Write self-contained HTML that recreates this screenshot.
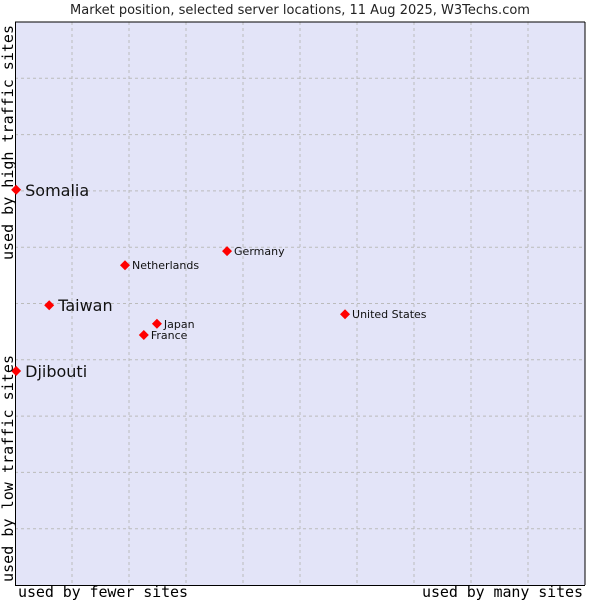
<!DOCTYPE html>
<html><head><meta charset="utf-8"><style>
body{margin:0;background:#fff;}
svg{display:block;font-family:"DejaVu Sans","Liberation Sans",sans-serif;}
</style></head><body>
<svg id="c" width="600" height="600">
<text x="300" y="14" text-anchor="middle" font-size="13" fill="#222">Market position, selected server locations, 11 Aug 2025, W3Techs.com</text>
<rect x="15" y="22" width="570" height="563" fill="#e3e4f8"/>
<g id="grid"></g>
<line x1="15" y1="22" x2="585" y2="22" stroke="#000"/>
<line x1="15.5" y1="22" x2="15.5" y2="585" stroke="#000"/>
<line x1="15" y1="585.5" x2="585" y2="585.5" stroke="#000"/>
<line x1="585" y1="22" x2="585" y2="585" stroke="#000"/>
<g id="pts"></g>
<text x="18" y="597" textLength="170" font-family="DejaVu Sans Mono,Liberation Mono,monospace" font-size="15">used by fewer sites</text>
<text x="422" y="597" textLength="161" font-family="DejaVu Sans Mono,Liberation Mono,monospace" font-size="15">used by many sites</text>
<text transform="translate(13,582) rotate(-90)" textLength="227" font-family="DejaVu Sans Mono,Liberation Mono,monospace" font-size="15">used by low traffic sites</text>
<text transform="translate(13,260) rotate(-90)" textLength="235" font-family="DejaVu Sans Mono,Liberation Mono,monospace" font-size="15">used by high traffic sites</text>
</svg>
<script>
const names=["Somalia","Taiwan","Djibouti","Netherlands","Germany","Japan","France","United States"];
const xVals=[0.2,6,0.2,19.3,37.2,24.9,22.6,57.9];
const yVals=[70.2,49.7,38.0,56.8,59.3,46.4,44.4,48.1];
const big=[true,true,true,false,false,false,false,false];
const ns="http://www.w3.org/2000/svg";
const X=v=>15+v*5.7, Y=v=>585-v*5.63;
const g=document.getElementById('grid');
for(let i=1;i<10;i++){
 const l=document.createElementNS(ns,'line');
 l.setAttribute('x1',X(i*10));l.setAttribute('x2',X(i*10));l.setAttribute('y1',22);l.setAttribute('y2',585);
 l.setAttribute('stroke','#bbb');l.setAttribute('stroke-dasharray','3,3');
 
 
 g.appendChild(l);
 const h=document.createElementNS(ns,'line');
 h.setAttribute('y1',Y(i*10));h.setAttribute('y2',Y(i*10));h.setAttribute('x1',15);h.setAttribute('x2',585);
 h.setAttribute('stroke','#bbb');h.setAttribute('stroke-dasharray','3,3');
 
 
 g.appendChild(h);
}
const p=document.getElementById('pts');
names.forEach((n,i)=>{
 const x=X(xVals[i]),y=Y(yVals[i]);
 const d=document.createElementNS(ns,'path');
 d.setAttribute('d',`M${x-5},${y}L${x},${y-5}L${x+5},${y}L${x},${y+5}Z`);
 d.setAttribute('fill','#f00');
 
 
 p.appendChild(d);
 const t=document.createElementNS(ns,'text');
 t.setAttribute('x',x+(big[i]?9:7));t.setAttribute('y',y+(big[i]?6:4));
 t.setAttribute('font-size',big[i]?16:11);t.setAttribute('fill','#111');
 t.textContent=n;
 
 
 p.appendChild(t);
});
</script>
</body></html>
